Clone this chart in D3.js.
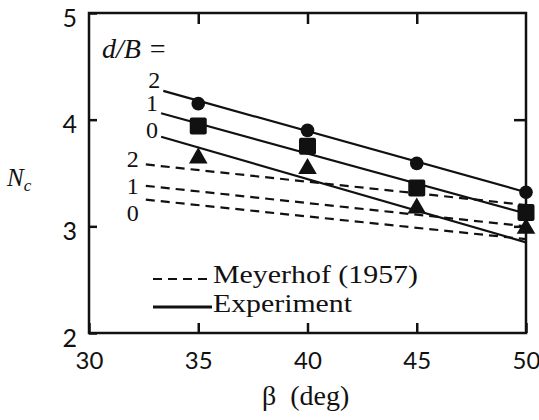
<!DOCTYPE html>
<html>
<head>
<meta charset="utf-8">
<script src="https://cdn.jsdelivr.net/npm/d3@7"></script>
<style>
  html, body { margin: 0; padding: 0; background: #fff; }
  svg { display: block; }
</style>
</head>
<body>
<svg id="chart" width="539" height="420"></svg>
<script>
// Bearing capacity factor Nc versus slope angle beta for three embedment ratios d/B
const betaTicks = [30, 35, 40, 45, 50];
const ncTicks = [2, 3, 4, 5];
const ratios = ["2", "1", "0"];
const betaPoints = [35, 40, 45, 50];

// Measured points (experiment)
const ncCircle = [4.15, 3.90, 3.59, 3.32];   // d/B = 2
const ncSquare = [3.94, 3.75, 3.36, 3.13];   // d/B = 1
const ncTriangle = [3.64, 3.54, 3.17, 2.98]; // d/B = 0

// Fitted experiment lines: [beta start, Nc start, beta end, Nc end]
const expLines = [
  [33.4, 4.27, 50, 3.32],
  [33.3, 4.06, 50, 3.12],
  [33.3, 3.84, 50, 2.85]
];
// Meyerhof (1957) theoretical lines
const meyLines = [
  [32.6, 3.58, 50, 3.20],
  [32.6, 3.38, 50, 3.00],
  [32.6, 3.25, 50, 2.88]
];

const svg = d3.select("#chart");
const x = d3.scaleLinear().domain([30, 50]).range([89, 526]);
const y = d3.scaleLinear().domain([2, 5]).range([333, 13]);

const ink = "#111";
const serif = "'Liberation Serif', 'Times New Roman', serif";
const sans = "Lato, 'Liberation Sans', sans-serif";

// Frame
svg.append("rect")
  .attr("x", x(30)).attr("y", y(5))
  .attr("width", x(50) - x(30)).attr("height", y(2) - y(5))
  .attr("fill", "none").attr("stroke", ink).attr("stroke-width", 2.5);

// Axes with inward ticks
const xBottom = d3.axisBottom(x).tickValues(betaTicks).tickSize(-10).tickPadding(19).tickFormat(d3.format("d"));
const gx = svg.append("g").attr("transform", `translate(0,${y(2)})`).call(xBottom);
const xTop = d3.axisTop(x).tickValues([35, 40, 45]).tickSize(-11).tickFormat("");
const gxt = svg.append("g").attr("transform", `translate(0,${y(5)})`).call(xTop);
const yLeft = d3.axisLeft(y).tickValues(ncTicks).tickSize(-8).tickPadding(12).tickFormat(d3.format("d"));
const gy = svg.append("g").attr("transform", `translate(${x(30)},0)`).call(yLeft);
const yRight = d3.axisRight(y).tickValues([3, 4]).tickSize(-12).tickFormat("");
const gyr = svg.append("g").attr("transform", `translate(${x(50)},0)`).call(yRight);

[gx, gxt, gy, gyr].forEach(g => {
  g.select(".domain").remove();
  g.selectAll(".tick line").attr("stroke", ink).attr("stroke-width", 2.5);
  g.selectAll(".tick text").attr("fill", ink).attr("font-family", sans).attr("font-size", 25);
});
gx.selectAll(".tick text").attr("dy", "0.71em").attr("font-size", 24);
gy.selectAll(".tick text").attr("dy", "0.52em");

// Meyerhof dashed lines
svg.append("g").selectAll("line").data(meyLines).join("line")
  .attr("x1", d => x(d[0])).attr("y1", d => y(d[1]))
  .attr("x2", d => x(d[2])).attr("y2", d => y(d[3]))
  .attr("stroke", ink).attr("stroke-width", 2.2).attr("stroke-dasharray", "9,6");

// Experiment solid lines
svg.append("g").selectAll("line").data(expLines).join("line")
  .attr("x1", d => x(d[0])).attr("y1", d => y(d[1]))
  .attr("x2", d => x(d[2])).attr("y2", d => y(d[3]))
  .attr("stroke", ink).attr("stroke-width", 2.2);

// Line labels (d/B value next to the start of each line)
const labelFont = 24;
const expLabelShift = [-3, -2, 1];
const meyLabelShift = [3, 8, 21];
svg.append("g").selectAll("text").data(expLines).join("text")
  .attr("x", d => x(d[0]) - 3).attr("y", (d, i) => y(d[1]) + expLabelShift[i])
  .attr("text-anchor", "end")
  .attr("font-family", serif).attr("font-size", labelFont).attr("fill", ink)
  .text((d, i) => ratios[i]);
svg.append("g").selectAll("text").data(meyLines).join("text")
  .attr("x", d => x(d[0]) - 7).attr("y", (d, i) => y(d[1]) + meyLabelShift[i])
  .attr("text-anchor", "end")
  .attr("font-family", serif).attr("font-size", labelFont).attr("fill", ink)
  .text((d, i) => ratios[i]);

svg.append("text")
  .attr("x", 102).attr("y", 58)
  .attr("font-family", serif).attr("font-size", 28).attr("font-style", "italic").attr("fill", ink)
  .text("d/B =");

// Markers
const pts = betaPoints.map((b, i) => ({ b, c: ncCircle[i], s: ncSquare[i], t: ncTriangle[i] }));
svg.append("g").selectAll("circle").data(pts).join("circle")
  .attr("cx", d => x(d.b)).attr("cy", d => y(d.c)).attr("r", 6.8).attr("fill", ink);
svg.append("g").selectAll("rect").data(pts).join("rect")
  .attr("x", d => x(d.b) - 8.5).attr("y", d => y(d.s) - 8.5)
  .attr("width", 17).attr("height", 17).attr("rx", 2).attr("fill", ink);
const tri = d3.symbol().type(d3.symbolTriangle).size(150);
svg.append("g").selectAll("path").data(pts).join("path")
  .attr("transform", d => `translate(${x(d.b)},${y(d.t)})`)
  .attr("d", tri).attr("fill", ink);

// Legend
const legend = svg.append("g");
legend.append("line").attr("x1", 153).attr("x2", 212).attr("y1", 279).attr("y2", 279)
  .attr("stroke", ink).attr("stroke-width", 2.2).attr("stroke-dasharray", "9,6");
legend.append("line").attr("x1", 153).attr("x2", 212).attr("y1", 307).attr("y2", 307)
  .attr("stroke", ink).attr("stroke-width", 2.8);
legend.append("text").attr("x", 213).attr("y", 283)
  .attr("font-family", serif).attr("font-size", 26).attr("fill", ink)
  .attr("textLength", 205).attr("lengthAdjust", "spacingAndGlyphs")
  .text("Meyerhof (1957)");
legend.append("text").attr("x", 213).attr("y", 312)
  .attr("font-family", serif).attr("font-size", 26).attr("fill", ink)
  .attr("textLength", 139).attr("lengthAdjust", "spacingAndGlyphs")
  .text("Experiment");

// Axis titles
const bt = svg.append("text").attr("x", 262).attr("y", 405)
  .attr("font-family", serif).attr("font-size", 28).attr("fill", ink);
bt.append("tspan").text("β");
bt.append("tspan").attr("dx", 14).text("(deg)");
const nc = svg.append("text").attr("x", 7).attr("y", 186)
  .attr("font-family", serif).attr("font-size", 25).attr("font-style", "italic").attr("fill", ink);
nc.append("tspan").text("N");
nc.append("tspan").attr("font-size", 17).attr("dy", 5).text("c");
</script>
</body>
</html>
